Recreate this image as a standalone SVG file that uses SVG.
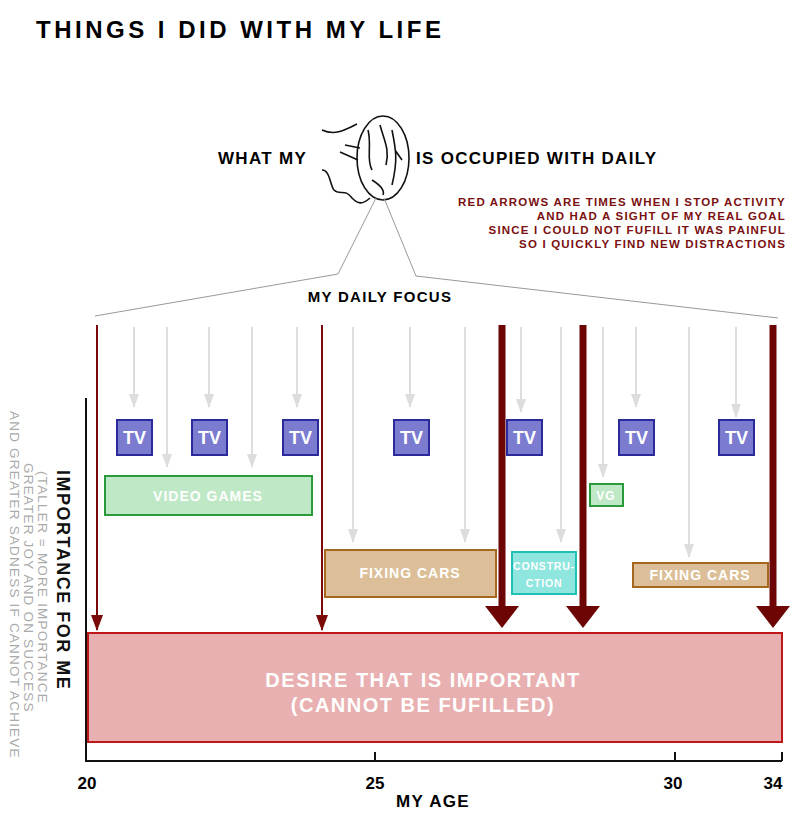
<svg xmlns="http://www.w3.org/2000/svg" width="800" height="815" viewBox="0 0 800 815">
<style>
text{font-family:"Liberation Sans",Arial,sans-serif;font-weight:bold}
.g{stroke:#ddd;stroke-width:2;fill:none;marker-end:url(#ga)}
.rt{stroke:#7a0a0a;stroke-width:2;fill:none;marker-end:url(#ra)}
.rk{stroke:#6e0505;stroke-width:7;fill:none;marker-end:url(#rb)}
.tv rect{fill:#7b7bd0;stroke:#2a2a9a;stroke-width:2}
.tv text{fill:#fff;font-size:18px;text-anchor:middle}
.lbl{fill:#fff;font-size:14px;text-anchor:middle;letter-spacing:1px}
.note{fill:#7a1010;font-size:11.5px;text-anchor:end;letter-spacing:1.2px}
</style>
<defs>
<marker id="ga" markerWidth="14" markerHeight="10" refX="13" refY="5" orient="auto" markerUnits="userSpaceOnUse" viewBox="0 0 14 10"><path d="M0,0 L14,5 L0,10 Z" fill="#ddd"/></marker>
<marker id="ra" markerWidth="16" markerHeight="12" refX="15" refY="6" orient="auto" markerUnits="userSpaceOnUse" viewBox="0 0 16 12"><path d="M0,0 L16,6 L0,12 Z" fill="#7a0a0a"/></marker>
<marker id="rb" markerWidth="22" markerHeight="34" refX="4" refY="17" orient="auto" markerUnits="userSpaceOnUse" viewBox="0 0 22 34"><path d="M0,0 L22,17 L0,34 Z" fill="#6e0505"/></marker>
</defs>
<text x="36" y="38" font-size="24" font-family="'DejaVu Sans',sans-serif" style="font-weight:900;letter-spacing:3.5px">THINGS I DID WITH MY LIFE</text>
<g id="head" fill="none" stroke="#111" stroke-width="1.6">
<ellipse cx="383" cy="158" rx="26" ry="42"/>
<path d="M322,130 C335,136 345,130 357,124"/>
<path d="M322,170 C330,170 330,185 334,190 C340,196 345,188 352,198 C358,204 362,205 370,198"/>
<path d="M340,152 L358,160 M345,145 L360,148"/>
<path d="M368,130 C372,145 366,160 372,170 M380,125 C384,140 390,150 386,165 M392,130 C396,150 398,160 392,185 M372,180 C380,185 385,190 383,195 M395,150 L402,160"/>
</g>
<text x="218" y="164" font-size="17" letter-spacing="1.3">WHAT MY</text>
<text x="416" y="164" font-size="17" letter-spacing="1.3">IS OCCUPIED WITH DAILY</text>
<text class="note" x="786" y="206">RED ARROWS ARE TIMES WHEN I STOP ACTIVITY</text>
<text class="note" x="786" y="220">AND HAD A SIGHT OF MY REAL GOAL</text>
<text class="note" x="786" y="234">SINCE I COULD NOT FUFILL IT WAS PAINFUL</text>
<text class="note" x="786" y="248">SO I QUICKLY FIND NEW DISTRACTIONS</text>
<g id="fan" fill="none" stroke="#999" stroke-width="1">
<path d="M376,198 L338,274 L95,316"/>
<path d="M384,198 L416,276 L778,318"/>
</g>
<text x="380" y="302" font-size="15" text-anchor="middle" letter-spacing="1.3">MY DAILY FOCUS</text>
<g id="connectors">
<path class="g" d="M134,327 V407"/><path class="g" d="M167,327 V467"/><path class="g" d="M209,327 V407"/><path class="g" d="M252,327 V467"/><path class="g" d="M297,327 V407"/><path class="g" d="M353,327 V542"/><path class="g" d="M410,327 V407"/><path class="g" d="M465,327 V542"/><path class="g" d="M521,327 V412"/><path class="g" d="M561,327 V542"/><path class="g" d="M603,327 V477"/><path class="g" d="M636,327 V407"/><path class="g" d="M689,327 V557"/><path class="g" d="M736,327 V417"/>
<path class="rt" d="M97,325 V630"/><path class="rt" d="M322,325 V630"/>
<path class="rk" d="M502,325 V610"/><path class="rk" d="M583,325 V610"/><path class="rk" d="M773,325 V610"/>
</g>
<g id="tv1" class="tv"><rect x="117" y="420" width="35" height="35"/><text x="134.5" y="444">TV</text></g>
<g id="tv2" class="tv"><rect x="192" y="420" width="35" height="35"/><text x="209.5" y="444">TV</text></g>
<g id="tv3" class="tv"><rect x="283" y="420" width="35" height="35"/><text x="300.5" y="444">TV</text></g>
<g id="tv4" class="tv"><rect x="394" y="420" width="35" height="35"/><text x="411.5" y="444">TV</text></g>
<g id="tv5" class="tv"><rect x="507" y="420" width="35" height="35"/><text x="524.5" y="444">TV</text></g>
<g id="tv6" class="tv"><rect x="619" y="420" width="35" height="35"/><text x="636.5" y="444">TV</text></g>
<g id="tv7" class="tv"><rect x="719" y="420" width="35" height="35"/><text x="736.5" y="444">TV</text></g>
<g id="videogames"><rect x="105" y="476" width="207" height="39" fill="#bfe8c6" stroke="#2a9a3a" stroke-width="2"/><text class="lbl" x="208" y="501">VIDEO GAMES</text></g>
<g id="vg"><rect x="590" y="484" width="33" height="22" fill="#bfe8c6" stroke="#2a9a3a" stroke-width="2"/><text class="lbl" x="606" y="500" style="font-size:12px">VG</text></g>
<g id="fixingcars1"><rect x="325" y="550" width="171" height="47" fill="#dcbf98" stroke="#a6681e" stroke-width="2"/><text class="lbl" x="410" y="578">FIXING CARS</text></g>
<g id="construction"><rect x="512" y="552" width="64" height="42" fill="#8ee6de" stroke="#20c0b4" stroke-width="2"/><text class="lbl" x="544" y="570" style="font-size:10.5px;letter-spacing:0.8px">CONSTRU-</text><text class="lbl" x="544" y="587" style="font-size:10.5px;letter-spacing:0.8px">CTION</text></g>
<g id="fixingcars2"><rect x="633" y="563" width="135" height="24" fill="#dcbf98" stroke="#a6681e" stroke-width="2"/><text class="lbl" x="700" y="580">FIXING CARS</text></g>
<g id="desire"><rect x="88" y="633" width="694" height="109" fill="#e8b0b0" stroke="#c01818" stroke-width="2"/>
<text x="423" y="687" font-size="20" fill="#fff" text-anchor="middle" letter-spacing="1.5">DESIRE THAT IS IMPORTANT</text>
<text x="423" y="712" font-size="20" fill="#fff" text-anchor="middle" letter-spacing="1.5">(CANNOT BE FUFILLED)</text></g>
<g id="axes" stroke="#111" stroke-width="2" fill="none">
<path d="M86,398 V761 H782"/><path d="M375,752 V761 M675,752 V761 M782,752 V761"/>
</g>
<text x="87" y="789" font-size="17" text-anchor="middle">20</text>
<text x="375" y="789" font-size="17" text-anchor="middle">25</text>
<text x="673" y="789" font-size="17" text-anchor="middle">30</text>
<text x="773" y="789" font-size="17" text-anchor="middle">34</text>
<text x="433" y="807" font-size="17" text-anchor="middle" letter-spacing="1.3">MY AGE</text>
<g transform="rotate(90)" fill="#aaa">
<text x="470" y="-57" font-size="18" fill="#111" letter-spacing="1.5">IMPORTANCE FOR ME</text>
<text x="471" y="-38" font-size="13.5" style="font-weight:normal" letter-spacing="1.2">(TALLER = MORE IMPORTANCE</text>
<text x="463" y="-24" font-size="13.5" style="font-weight:normal" letter-spacing="1.2">GREATER JOY AND ON SUCCESS</text>
<text x="411" y="-10" font-size="13.5" style="font-weight:normal" letter-spacing="1.2">AND GREATER SADNESS IF CANNOT ACHIEVE</text>
</g>
</svg>
